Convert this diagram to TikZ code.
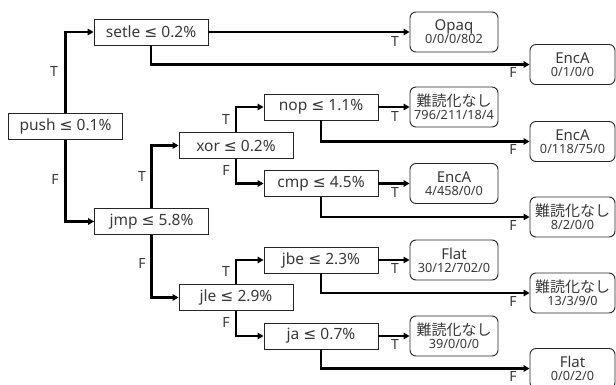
\documentclass[tikz,border=0pt]{standalone}
\usepackage{fontspec}
\setmainfont{Noto Sans}
\newfontfamily\jpfont{Noto Sans CJK JP}
\newfontfamily\symfont{DejaVu Sans}
\usetikzlibrary{arrows.meta}
\newcommand\lftxt[2]{#1\\[-2pt]{\fontsize{12.7}{13}\selectfont #2}}
\newcommand\nanaku{{\jpfont 難読化なし}}
\newcommand\myle{{\symfont ≤}}
\begin{document}
\begin{tikzpicture}[x=1pt,y=-1pt,
 dec/.style={draw=black!85, line width=0.9pt, minimum width=114pt, minimum height=26pt, inner sep=0pt, font=\fontsize{15.5}{16}\selectfont, text=black!78},
 leaf/.style={draw=black!85, line width=0.9pt, rounded corners=6pt, minimum width=88pt, minimum height=40pt, inner sep=0pt, align=center, text=black!78, font=\fontsize{15}{15}\selectfont},
 rleaf/.style={leaf, minimum width=85pt},
 conn/.style={line width=2.4pt, -{Triangle[length=6pt,width=6.5pt]}},
 lbl/.style={font=\fontsize{14}{15}\selectfont, text=black!78, inner sep=0pt}]
\useasboundingbox (0,0) rectangle (616,385);
\clip (0,0) rectangle (616,385);
% decision nodes
\node[dec] (push) at (65.5,126.5) {push \myle\ 0.1\%};
\node[dec] (setle) at (151,32) {setle \myle\ 0.2\%};
\node[dec] (jmp) at (151.5,221.5) {jmp \myle\ 5.8\%};
\node[dec] (xor) at (236,145.5) {xor \myle\ 0.2\%};
\node[dec] (nop) at (321,107) {nop \myle\ 1.1\%};
\node[dec] (cmp) at (321,183.5) {cmp \myle\ 4.5\%};
\node[dec] (jle) at (236,297.5) {jle \myle\ 2.9\%};
\node[dec] (jbe) at (321,260) {jbe \myle\ 2.3\%};
\node[dec] (ja) at (321,336) {ja \myle\ 0.7\%};
% leaves
\node[leaf] (l1) at (454,32) {\lftxt{Opaq}{0/0/0/802}};
\node[rleaf] (l2) at (572.5,64.5) {\lftxt{EncA}{0/1/0/0}};
\node[leaf] (l3) at (454,107) {\lftxt{\nanaku}{796/211/18/4}};
\node[rleaf] (l4) at (572.5,141.5) {\lftxt{EncA}{0/118/75/0}};
\node[leaf] (l5) at (454,183.5) {\lftxt{EncA}{4/458/0/0}};
\node[rleaf] (l6) at (572.5,217) {\lftxt{\nanaku}{8/2/0/0}};
\node[leaf] (l7) at (454,260) {\lftxt{Flat}{30/12/702/0}};
\node[rleaf] (l8) at (572.5,293) {\lftxt{\nanaku}{13/3/9/0}};
\node[leaf] (l9) at (454,336) {\lftxt{\nanaku}{39/0/0/0}};
\node[rleaf] (l10) at (572.5,368.5) {\lftxt{Flat}{0/0/2/0}};
% connectors
\draw[conn] (push.north) |- (setle.west);
\draw[conn] (push.south) |- (jmp.west);
\draw[conn] (setle.east) -- (l1.west);
\draw[conn] (setle.south) |- (l2.west);
\draw[conn] (jmp.north) |- (xor.west);
\draw[conn] (jmp.south) |- (jle.west);
\draw[conn] (xor.north) |- (nop.west);
\draw[conn] (xor.south) |- (cmp.west);
\draw[conn] (nop.east) -- (l3.west);
\draw[conn] (nop.south) |- (l4.west);
\draw[conn] (cmp.east) -- (l5.west);
\draw[conn] (cmp.south) |- (l6.west);
\draw[conn] (jle.north) |- (jbe.west);
\draw[conn] (jle.south) |- (ja.west);
\draw[conn] (jbe.east) -- (l7.west);
\draw[conn] (jbe.south) |- (l8.west);
\draw[conn] (ja.east) -- (l9.west);
\draw[conn] (ja.south) |- (l10.west);
% labels
\node[lbl] (t1) at (54,72) {T};
\node[lbl] (f1) at (55,180) {F};
\node[lbl] (t2) at (142,177) {T};
\node[lbl] (f2) at (142,264) {F};
\node[lbl] (t3) at (226,120) {T};
\node[lbl] (f3) at (226,171) {F};
\node[lbl] (t4) at (226,272) {T};
\node[lbl] (f4) at (226,323) {F};
\node[lbl] (t5) at (395,42) {T};
\node[lbl] (t6) at (395,117) {T};
\node[lbl] (t7) at (395,193) {T};
\node[lbl] (t8) at (395,269) {T};
\node[lbl] (t9) at (395,345) {T};
\node[lbl] (f5) at (513,73) {F};
\node[lbl] (f6) at (513,150) {F};
\node[lbl] (f7) at (513,226) {F};
\node[lbl] (f8) at (513,302) {F};
\node[lbl] (f9) at (513,376.5) {F};
\end{tikzpicture}
\end{document}
